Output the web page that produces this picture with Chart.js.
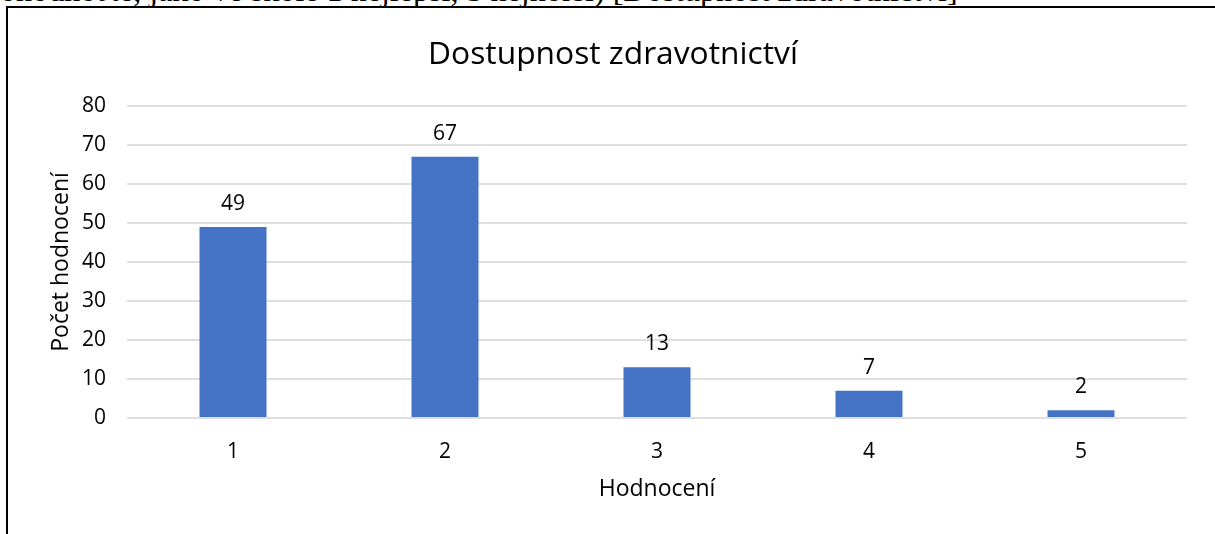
<!DOCTYPE html>
<html lang="cs">
<head>
<meta charset="utf-8">
<script src="https://cdn.jsdelivr.net/npm/chart.js@4/dist/chart.umd.min.js"></script>
<style>
  html, body { margin: 0; padding: 0; background: #fff; }
  body { width: 1215px; height: 534px; position: relative; overflow: hidden; }
  #caption {
    position: absolute; left: 0; top: -15px; white-space: nowrap;
    font-family: "Liberation Serif", "Times New Roman", serif; font-size: 21px; line-height: 21px; color: #000;
  }
  #frame {
    position: absolute; left: 6px; top: 6px; right: -10px; bottom: -10px;
    border-top: 2px solid #000; border-left: 2px solid #000;
  }
  #wrap { position: absolute; left: 0; top: 0; width: 1215px; height: 534px; }
</style>
</head>
<body>
<div id="caption">ohodnoťte, jako ve škole 1 nejlepší, 5 nejhorší) [Dostupnost zdravotnictví]<span id="base" style="display:inline-block;width:0;height:0;"></span></div>
<div id="frame"></div>
<div id="wrap"><canvas id="chart" width="1215" height="534"></canvas></div>
<script>
// Hodnocení dostupnosti zdravotnictví (1 = nejlepší, 5 = nejhorší)
const categories = ["1", "2", "3", "4", "5"];
const counts = [49, 67, 13, 7, 2];
const yTicks = [0, 10, 20, 30, 40, 50, 60, 70, 80];

const chartTitle = "Dostupnost zdravotnictví";
const xTitle = "Hodnocení";
const yTitle = "Počet hodnocení";

const FONT = "'Open Sans', Lato, sans-serif";
const INK = "#000000";

// caption line of the surrounding document: fit its width, only its lower edge shows
(function () {
  const el = document.getElementById("caption");
  const target = 958;
  const w = el.getBoundingClientRect().width;
  if (w > 0) {
    const fs = 21 * target / w;
    el.style.fontSize = fs + "px";
    el.style.lineHeight = fs + "px";
    el.style.top = "0px";
    const baseY = document.getElementById("base").getBoundingClientRect().bottom;
    el.style.top = (0.5 - baseY) + "px";
  }
})();

// title size chosen so the heading spans about 370 px
const titleSize = (function () {
  const c = document.createElement("canvas").getContext("2d");
  c.font = "28px " + FONT;
  const w = c.measureText(chartTitle).width;
  return w > 0 ? 28 * 370 / w : 31;
})();
const titleLH = titleSize * 1.2;
const titleMid = 53 + 0.072 * titleSize;
const titlePadTop = titleMid - titleLH / 2;
const titlePadBottom = 106 - titlePadTop - titleLH;

// value labels above each bar, placed from the bar elements
const valueLabels = {
  id: "valueLabels",
  afterDatasetsDraw(chart) {
    const { ctx } = chart;
    const meta = chart.getDatasetMeta(0);
    ctx.save();
    ctx.font = "21px " + FONT;
    ctx.fillStyle = INK;
    ctx.textAlign = "center";
    ctx.textBaseline = "middle";
    meta.data.forEach((bar, i) => {
      ctx.fillText(String(chart.data.datasets[0].data[i]), bar.x, bar.y - 23);
    });
    ctx.restore();
  }
};

new Chart(document.getElementById("chart"), {
  type: "bar",
  data: {
    labels: categories,
    datasets: [{
      data: counts,
      backgroundColor: "#4472C4",
      borderWidth: 0,
      barPercentage: 0.316,
      categoryPercentage: 1.0
    }]
  },
  options: {
    responsive: false,
    animation: false,
    devicePixelRatio: 1,
    layout: { padding: { left: 39, top: 0, right: 28, bottom: 0 } },
    plugins: {
      legend: { display: false },
      tooltip: { enabled: false },
      title: {
        display: true,
        text: chartTitle,
        color: INK,
        font: { family: FONT, size: titleSize, weight: "normal", lineHeight: 1.2 },
        padding: { top: titlePadTop, bottom: titlePadBottom }
      }
    },
    scales: {
      x: {
        grid: { display: false, drawTicks: false },
        border: { display: false },
        ticks: { color: INK, font: { family: FONT, size: 21 }, padding: 21 },
        title: {
          display: true, text: xTitle, color: INK,
          font: { family: FONT, size: 23, lineHeight: 1.2 },
          padding: { top: 0, bottom: 31 }
        },
        afterFit(scale) { scale.height = 116; }
      },
      y: {
        min: 0, max: 80,
        afterBuildTicks(scale) { scale.ticks = yTicks.map(v => ({ value: v })); },
        grid: { color: "#dedede", lineWidth: 2, drawTicks: false },
        border: { display: false },
        ticks: { color: INK, font: { family: FONT, size: 21 }, padding: 21 },
        title: {
          display: true, text: yTitle, color: INK,
          font: { family: FONT, size: 23, lineHeight: 1.2 },
          padding: { top: 8.2, bottom: 0 }
        },
        afterFit(scale) { scale.width = 88; }
      }
    }
  },
  plugins: [valueLabels]
});
</script>
</body>
</html>
